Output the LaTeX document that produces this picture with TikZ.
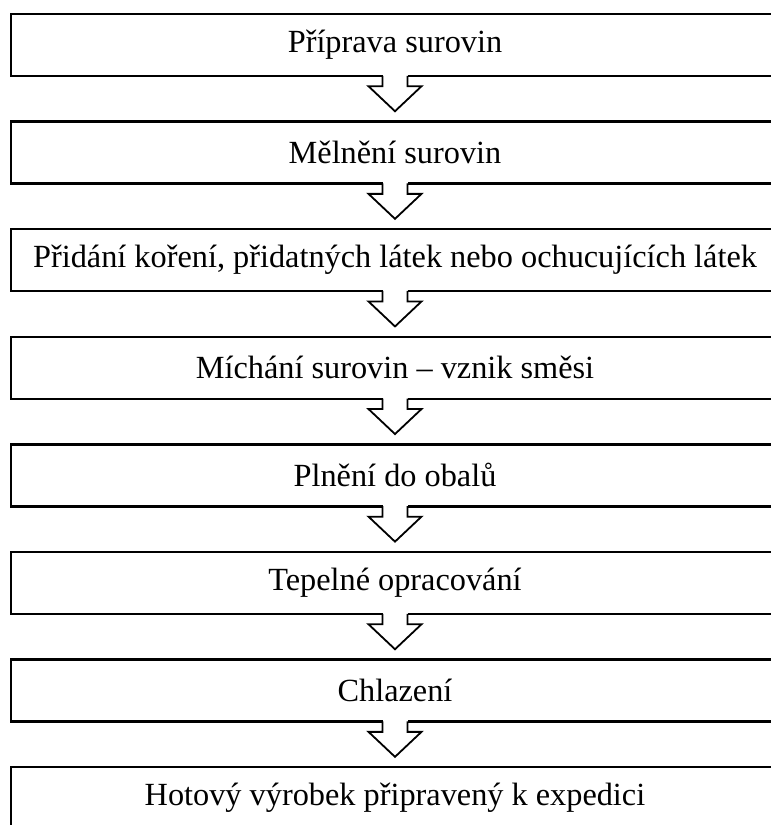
\documentclass[tikz,border=0pt]{standalone}
\usepackage{fontspec}
\setmainfont{Liberation Serif}
\usetikzlibrary{positioning}
\tikzset{
node distance=107.6pt, % centre to centre of two steps
stepbox/.style={draw, line width=2.5pt, minimum width=768pt, minimum height=62pt, inner sep=0pt, font=\fontsize{32.3}{38}\selectfont}, % one box of the flow
flowarrow/.style={line width=1.8pt, line join=miter}, % hollow arrow between boxes
}
% hollow block arrow hanging under box #1
\newcommand{\stepdown}[1]{%
\fill[white] ([shift={(-12.5,-4)}]#1.south) rectangle ([shift={(12.5,1)}]#1.south);
\draw[flowarrow] ([shift={(-12.5,-1.5)}]#1.south) -- ++(0,10.5) -- ++(-14,0) -- ++(26.5,25) -- ++(26.5,-25) -- ++(-14,0) -- ++(0,-10.5);
}

\begin{document}
\begin{tikzpicture}[x=1pt, y=-1pt]
\useasboundingbox (0,0) rectangle (771,825);
\clip (0,0) rectangle (771,825);
\node[stepbox] (s1) at (395,45) {Příprava surovin};
\node[stepbox, below of=s1] (s2) {Mělnění surovin};
\node[stepbox, below of=s2] (s3) {Přidání koření, přidatných látek nebo ochucujících látek};
\node[stepbox, below of=s3] (s4) {Míchání surovin – vznik směsi};
\node[stepbox, below of=s4] (s5) {Plnění do obalů};
\node[stepbox, below of=s5] (s6) {Tepelné opracování};
\node[stepbox, below of=s6] (s7) {Chlazení};
\node[stepbox, below of=s7] (s8) {Hotový výrobek připravený k expedici};
\foreach \s in {s1,s2,s3,s4,s5,s6,s7}
  \stepdown{\s};
\end{tikzpicture}
\end{document}
